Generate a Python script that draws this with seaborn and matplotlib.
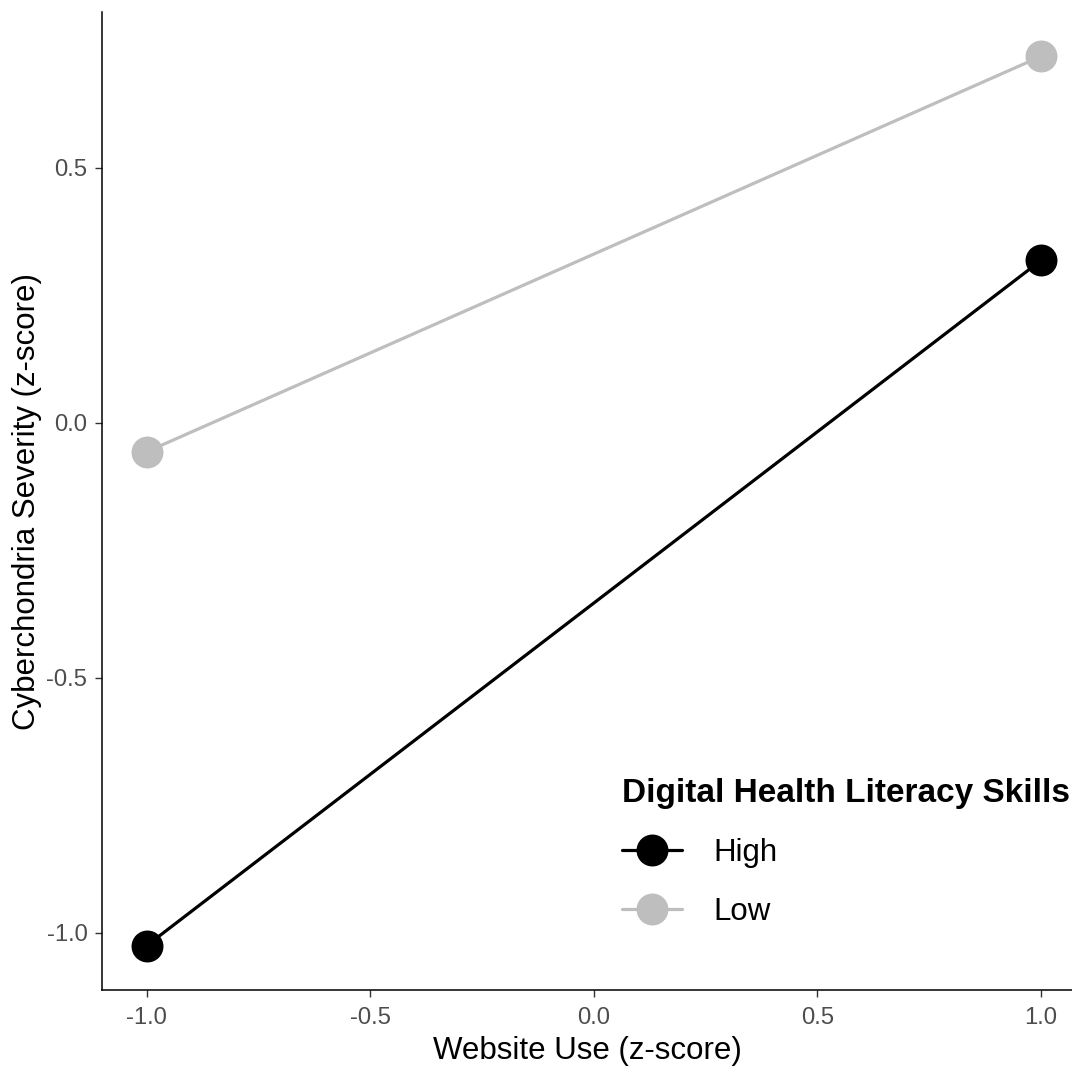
import matplotlib
matplotlib.use("Agg")
import matplotlib.pyplot as plt
import seaborn as sns
import pandas as pd

website_use = [-1.0, 1.0, -1.0, 1.0]
severity = [-1.025, 0.318, -0.057, 0.718]
skill_group = ["High", "High", "Low", "Low"]
groups = ["High", "Low"]
colors = {"High": "#000000", "Low": "#BEBEBE"}

df = pd.DataFrame({"x": website_use, "y": severity, "g": skill_group})

sns.set_theme(style="ticks")
plt.rcParams['font.family'] = ['Liberation Sans', 'DejaVu Sans']

fig = plt.figure(figsize=(10.72, 10.67), dpi=100)
ax = fig.add_axes([102/1072, 1 - 990/1067, 1 - 102/1072, (990 - 12)/1067])

sns.lineplot(data=df, x="x", y="y", hue="g", hue_order=groups, palette=colors,
             marker="o", markersize=23, markeredgewidth=0, linewidth=2.3, ax=ax)

ax.set_xlim(-1.1, 1.0694)
ax.set_ylim(-1.112, 0.805)
ax.set_xticks([-1.0, -0.5, 0.0, 0.5, 1.0])
ax.set_xticklabels(["-1.0", "-0.5", "0.0", "0.5", "1.0"])
ax.set_yticks([-1.0, -0.5, 0.0, 0.5])
ax.set_yticklabels(["-1.0", "-0.5", "0.0", "0.5"])
ax.tick_params(axis="both", labelsize=17.2, labelcolor="#4D4D4D", color="#333333",
               length=5, width=1)
ax.tick_params(axis="x", pad=7.5)
ax.tick_params(axis="y", pad=5.5)
for s in ["top", "right"]:
    ax.spines[s].set_visible(False)
for s in ["left", "bottom"]:
    ax.spines[s].set_linewidth(1.1)
    ax.spines[s].set_color("black")

ax.set_xlabel("Website Use (z-score)", fontsize=22.5, color="black", labelpad=5)
ax.set_ylabel("Cyberchondria Severity (z-score)", fontsize=22.5, color="black", labelpad=3)

leg = ax.legend(title="Digital Health Literacy Skills", loc="upper left",
                bbox_to_anchor=(594/1072, 1 - 750/1067), bbox_transform=fig.transFigure,
                frameon=False, fontsize=22.5, title_fontsize=24, handlelength=1.9,
                labelspacing=0.92, handletextpad=1.03, alignment="left")
leg.get_title().set_fontweight("bold")
leg.get_title().set_color("black")
for t in leg.get_texts():
    t.set_color("black")
for h in leg.legend_handles:
    h.set_markersize(23)

fig.savefig("out.png", dpi=100)
